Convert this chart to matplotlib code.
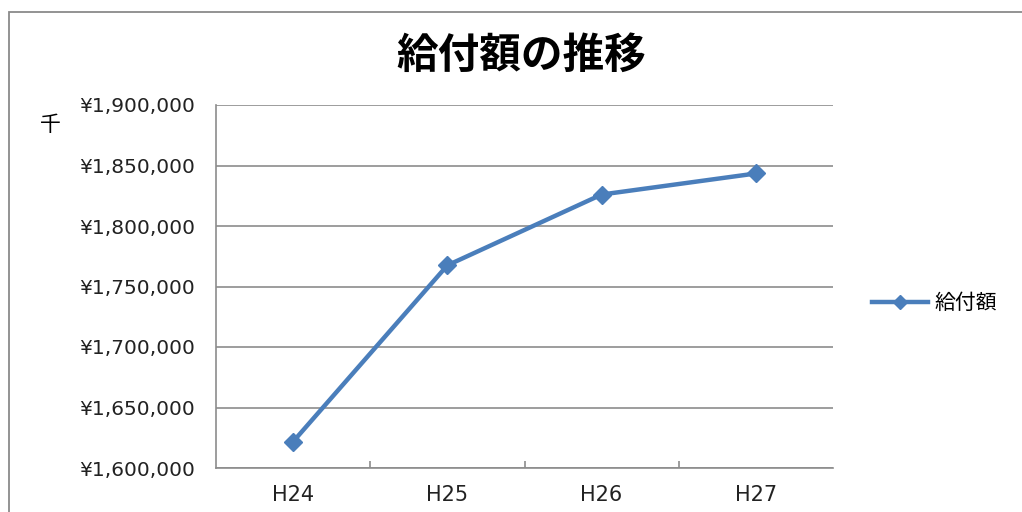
import matplotlib
matplotlib.use("Agg")
import matplotlib.pyplot as plt
import matplotlib.ticker as mticker
from matplotlib.lines import Line2D

plt.rcParams['font.family'] = ['Noto Sans CJK JP', 'DejaVu Sans']

# data
years = ["H24", "H25", "H26", "H27"]
payments = [1621800, 1767500, 1826000, 1843400]
y_ticks = [1600000, 1650000, 1700000, 1750000, 1800000, 1850000, 1900000]

LINE_COLOR = '#4a7ebb'
GRID_COLOR = '#8c8c8c'

fig = plt.figure(figsize=(10.22, 5.12), dpi=100)
ax = fig.add_axes([216/1022, 44/512, 617/1022, 363/512])

x = range(len(years))
ax.plot(x, payments, color=LINE_COLOR, linewidth=3.2, marker='D',
        markersize=9, markeredgecolor=LINE_COLOR, markerfacecolor=LINE_COLOR, zorder=3)

ax.set_xlim(-0.5, len(years) - 0.5)
ax.set_ylim(y_ticks[0], y_ticks[-1])
ax.set_yticks(y_ticks)
ax.yaxis.set_major_formatter(mticker.FuncFormatter(lambda v, p: f"¥{int(v):,}"))
ax.set_xticks(list(x))
ax.set_xticklabels(years)
ax.set_xticks([i + 0.5 for i in range(len(years) - 1)], minor=True)

ax.grid(axis='y', color=GRID_COLOR, linewidth=1.2)
ax.set_axisbelow(True)
for s in ['top', 'right']:
    ax.spines[s].set_visible(False)
for s in ['left', 'bottom']:
    ax.spines[s].set_color(GRID_COLOR)
    ax.spines[s].set_linewidth(1.2)

ax.tick_params(axis='y', length=0, pad=15, labelsize=14.5)
ax.tick_params(axis='x', which='major', length=0, pad=12, labelsize=15)
ax.tick_params(axis='x', which='minor', direction='in', length=5, color=GRID_COLOR, width=1.2)
for lab in ax.get_yticklabels() + ax.get_xticklabels():
    lab.set_family('DejaVu Sans')
    lab.set_color('#222222')

fig.text(521/1022, 1 - 56/512, "給付額の推移", ha='center', va='center',
         fontsize=30, fontweight='bold', color='black')
fig.text(50/1022, 1 - 125/512, "千", ha='center', va='center', fontsize=15)

# legend
handle = Line2D([], [], color=LINE_COLOR, linewidth=3.2, marker='D', markersize=7)
fig.legend([handle], ["給付額"], loc='center left', bbox_to_anchor=(872/1022, 1 - 303/512),
           frameon=False, fontsize=15, handlelength=2.7, handletextpad=0.3,
           borderaxespad=0, borderpad=0)

# outer chart frame
frame = plt.Rectangle((9/1022, -0.1), 1.2, 1 - 12/512 + 0.1, transform=fig.transFigure,
                      fill=False, edgecolor='#8a8a8a', linewidth=1.3)
fig.patches.append(frame)

fig.savefig("out.png", dpi=100)
